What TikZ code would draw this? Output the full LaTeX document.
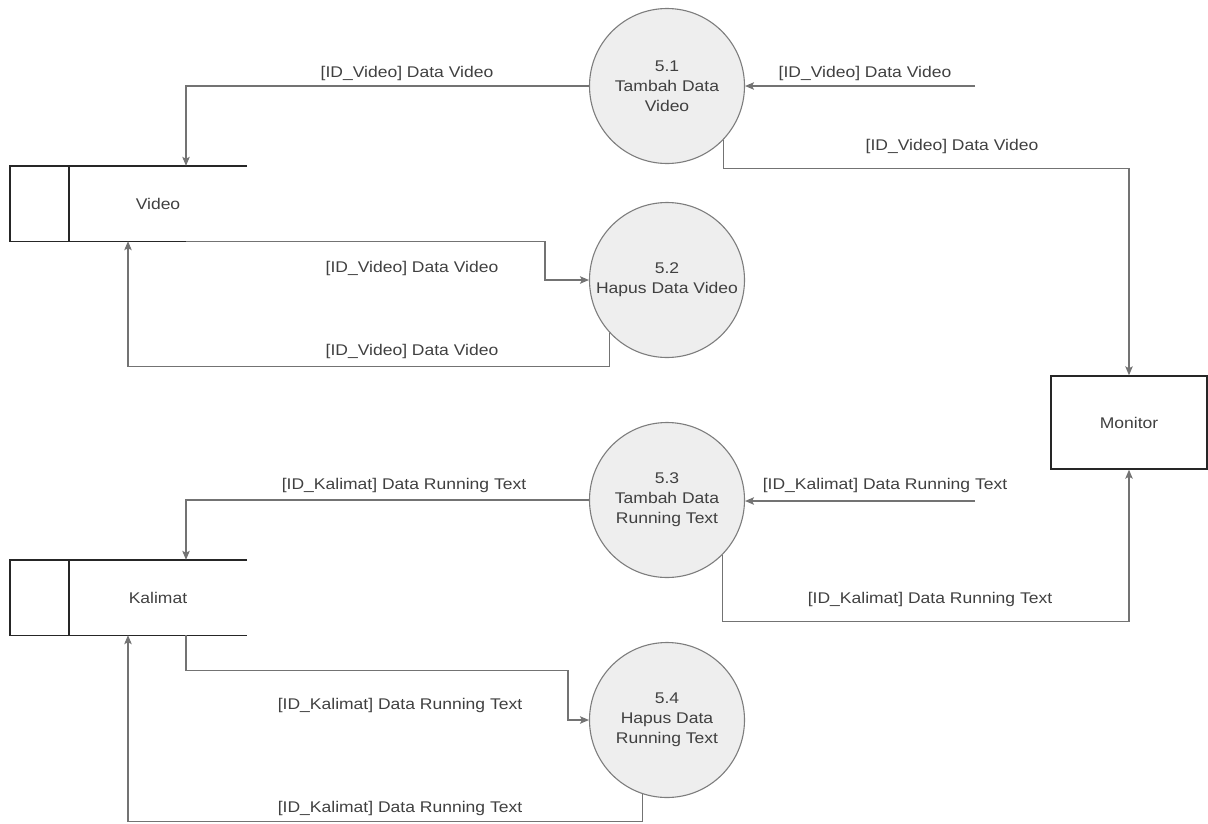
\documentclass[tikz,border=0pt]{standalone}
\usepackage{fontspec}
\setmainfont{Liberation Sans}[FakeStretch=1.13]
\usetikzlibrary{arrows.meta,calc}
\definecolor{ink}{RGB}{64,64,64}
\definecolor{wire}{RGB}{115,115,115}
\definecolor{edge}{RGB}{38,38,38}
\definecolor{bubble}{RGB}{238,238,238}
\definecolor{rim}{RGB}{125,125,125}
\begin{document}
\begin{tikzpicture}[x=1pt,y=-1pt,
  every node/.style={text=ink, font=\fontsize{15.5}{20}\selectfont},
  process/.style={circle, draw=rim, fill=bubble, line width=1.1pt,
    minimum size=155pt, inner sep=0pt, align=center},
  store/.style={minimum width=178pt, minimum height=75pt, inner sep=0pt},
  storeline/.style={draw=edge, line width=1.4pt},
  entity/.style={draw=edge, line width=1.4pt, minimum width=156pt,
    minimum height=93pt, inner sep=0pt},
  flow/.style={draw=wire, line width=1.1pt,
    -{Stealth[length=9pt,width=7.5pt,inset=2pt]}},
  flowlabel/.style={inner sep=0pt}]
\useasboundingbox (0,0) rectangle (1208,823);

% processes
\node[process] (p51) at (667,86)  {5.1\\Tambah Data\\Video};
\node[process] (p52) at (667,280) {5.2\\Hapus Data Video};
\node[process] (p53) at (667,500) {5.3\\Tambah Data\\Running Text};
\node[process] (p54) at (667,720) {5.4\\Hapus Data\\Running Text};

% data stores (the node is the named compartment)
\node[store] (vid) at (158,203.5) {Video};
\node[store] (kal) at (158,597.5) {Kalimat};
\foreach \s in {vid,kal}{
  \draw[storeline] (\s.north east) -- (\s.north west) -- ++(-59,0)
    |- (\s.south west) -- (\s.south east);
  \draw[storeline] (\s.north west) -- (\s.south west);
}

% external entity
\node[entity] (mon) at (1129,422.5) {Monitor};

% incoming data from outside
\coordinate (src1) at (975,86);
\coordinate (src3) at (975,501);

% video flows
\draw[flow] (src1) -- (p51.east);
\draw[flow] (p51.west) -| ([xshift=28pt]vid.north);
\draw[flow] (p51.-44.5) -- ++(0,28) -| (mon.north);
\draw[flow] ([xshift=28pt]vid.south) -- ++(359,0) |- (p52.west);
\draw[flow] (p52.-137.7) -- ++(0,33) -| ([xshift=-30pt]vid.south);

% running text flows
\draw[flow] (src3) -- (p53.east |- src3);
\draw[flow] (p53.west) -| ([xshift=28pt]kal.north);
\draw[flow] (p53.-45) -- ++(0,66) -| (mon.south);
\draw[flow] ([xshift=28pt]kal.south) -- ++(0,35) -| ([xshift=-21pt]p54.west)
  -- (p54.west);
\draw[flow] (p54.-108.7) -- ++(0,27) -| ([xshift=-30pt]kal.south);

% flow labels
\node[flowlabel] (l1) at (407,73)  {[ID\_Video] Data Video};
\node[flowlabel] (l2) at (865,73)  {[ID\_Video] Data Video};
\node[flowlabel] (l3) at (952,146) {[ID\_Video] Data Video};
\node[flowlabel] (l4) at (412,268) {[ID\_Video] Data Video};
\node[flowlabel] (l5) at (412,351) {[ID\_Video] Data Video};
\node[flowlabel] (l6) at (404,485) {[ID\_Kalimat] Data Running Text};
\node[flowlabel] (l7) at (885,485) {[ID\_Kalimat] Data Running Text};
\node[flowlabel] (l8) at (930,599) {[ID\_Kalimat] Data Running Text};
\node[flowlabel] (l9) at (400,705) {[ID\_Kalimat] Data Running Text};
\node[flowlabel] (l10) at (400,808) {[ID\_Kalimat] Data Running Text};
\end{tikzpicture}
\end{document}
